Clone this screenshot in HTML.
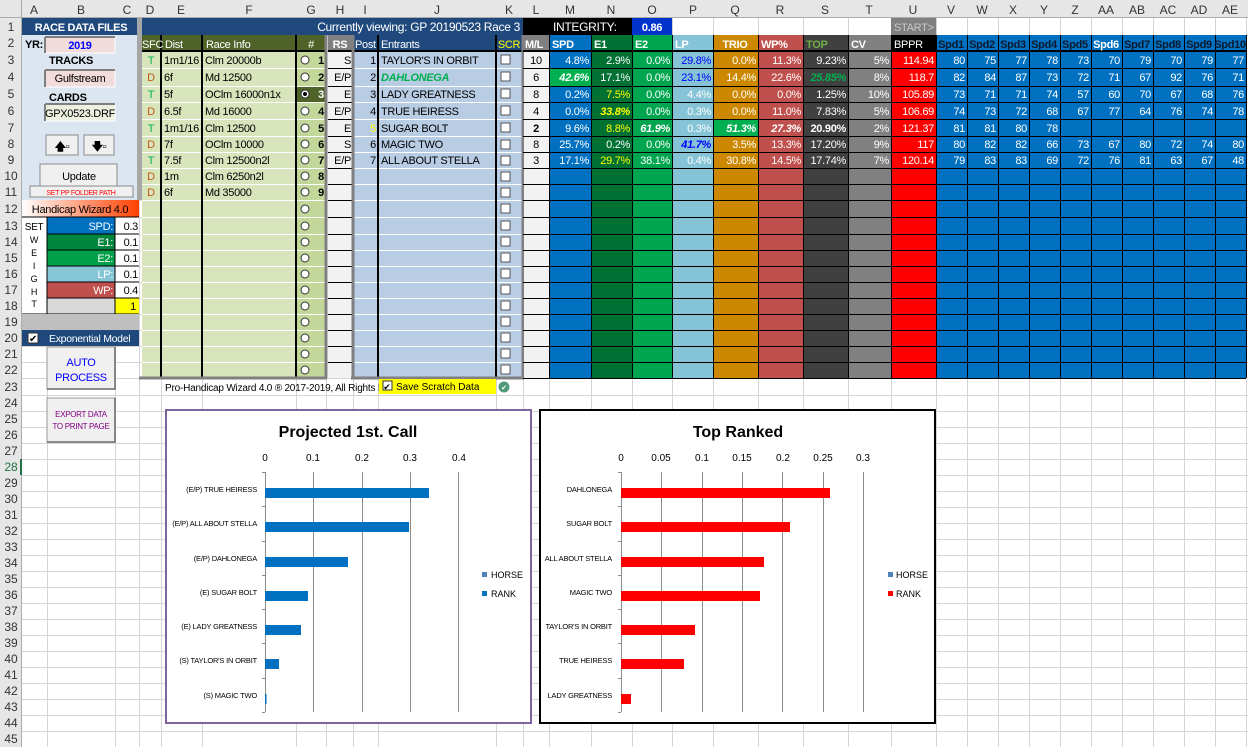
<!DOCTYPE html>
<html><head><meta charset="utf-8"><style>
html,body{margin:0;padding:0;background:#fff;}
svg{display:block;font-family:"Liberation Sans",Arial,sans-serif;}
.t text{font-size:11px;letter-spacing:-0.3px;}
</style></head><body>
<svg width="1248" height="747" viewBox="0 0 1248 747" xmlns="http://www.w3.org/2000/svg">
<rect width="1248" height="747" fill="#fff"/>
<g stroke="#d4d4d4" stroke-width="1">
<path d="M47.5 18V747M115.5 18V747M139.5 18V747M161.5 18V747M202.5 18V747M296.5 18V747M326.5 18V747M353.5 18V747M378.5 18V747M496.5 18V747M523.5 18V747M549.5 18V747M591.5 18V747M632.5 18V747M672.5 18V747M713.5 18V747M758.5 18V747M803.5 18V747M848.5 18V747M891.5 18V747M936.5 18V747M967.5 18V747M998.5 18V747M1029.5 18V747M1060.5 18V747M1091.5 18V747M1122.5 18V747M1153.5 18V747M1184.5 18V747M1215.5 18V747M1246.5 18V747"/>
<path d="M22 35.5H1248M22 51.5H1248M22 68.5H1248M22 86.5H1248M22 102.5H1248M22 119.5H1248M22 136.5H1248M22 152.5H1248M22 168.5H1248M22 184.5H1248M22 200.5H1248M22 217.5H1248M22 234.5H1248M22 250.5H1248M22 266.5H1248M22 282.5H1248M22 298.5H1248M22 314.5H1248M22 330.5H1248M22 346.5H1248M22 362.5H1248M22 378.5H1248M22 395.5H1248M22 411.5H1248M22 427.5H1248M22 443.5H1248M22 459.5H1248M22 475.5H1248M22 491.5H1248M22 507.5H1248M22 523.5H1248M22 539.5H1248M22 555.5H1248M22 571.5H1248M22 587.5H1248M22 603.5H1248M22 619.5H1248M22 635.5H1248M22 651.5H1248M22 667.5H1248M22 683.5H1248M22 699.5H1248M22 715.5H1248M22 731.5H1248"/>
</g>
<rect x="0" y="0" width="1248" height="18" fill="#e6e6e6"/>
<rect x="0" y="0" width="22" height="747" fill="#e6e6e6"/>
<path d="M0 17.5H1248M21.5 0V747" stroke="#ababab"/>
<g font-size="12" fill="#333" text-anchor="middle">
<text x="34" y="14">A</text><text x="81" y="14">B</text><text x="127" y="14">C</text><text x="150" y="14">D</text><text x="181" y="14">E</text><text x="249" y="14">F</text><text x="311" y="14">G</text><text x="340" y="14">H</text><text x="365" y="14">I</text><text x="437" y="14">J</text><text x="509" y="14">K</text><text x="536" y="14">L</text><text x="570" y="14">M</text><text x="611" y="14">N</text><text x="652" y="14">O</text><text x="693" y="14">P</text><text x="735" y="14">Q</text><text x="780" y="14">R</text><text x="825" y="14">S</text><text x="869" y="14">T</text><text x="913" y="14">U</text><text x="951" y="14">V</text><text x="982" y="14">W</text><text x="1013" y="14">X</text><text x="1044" y="14">Y</text><text x="1075" y="14">Z</text><text x="1106" y="14">AA</text><text x="1137" y="14">AB</text><text x="1168" y="14">AC</text><text x="1199" y="14">AD</text><text x="1230" y="14">AE</text>
</g>
<g font-size="12" fill="#333" text-anchor="middle">
<text x="11" y="31">1</text><text x="11" y="47">2</text><text x="11" y="64">3</text><text x="11" y="81">4</text><text x="11" y="98">5</text><text x="11" y="115">6</text><text x="11" y="132">7</text><text x="11" y="148">8</text><text x="11" y="164">9</text><text x="11" y="180">10</text><text x="11" y="196">11</text><text x="11" y="213">12</text><text x="11" y="230">13</text><text x="11" y="246">14</text><text x="11" y="262">15</text><text x="11" y="278">16</text><text x="11" y="294">17</text><text x="11" y="310">18</text><text x="11" y="326">19</text><text x="11" y="342">20</text><text x="11" y="358">21</text><text x="11" y="374">22</text><text x="11" y="391">23</text><text x="11" y="407">24</text><text x="11" y="423">25</text><text x="11" y="439">26</text><text x="11" y="455">27</text><text x="11" y="471" fill="#217346">28</text><text x="11" y="487">29</text><text x="11" y="503">30</text><text x="11" y="519">31</text><text x="11" y="535">32</text><text x="11" y="551">33</text><text x="11" y="567">34</text><text x="11" y="583">35</text><text x="11" y="599">36</text><text x="11" y="615">37</text><text x="11" y="631">38</text><text x="11" y="647">39</text><text x="11" y="663">40</text><text x="11" y="679">41</text><text x="11" y="695">42</text><text x="11" y="711">43</text><text x="11" y="727">44</text><text x="11" y="743">45</text>
</g>
<rect x="20" y="459" width="2" height="16" fill="#217346"/>

<g class="t">
<!-- LEFT PANEL -->
<rect x="22" y="18" width="117" height="182" fill="#dce6f1"/>
<rect x="22" y="18" width="116" height="17" fill="#1f497d"/>
<text x="81" y="31" font-weight="bold" fill="#fff" text-anchor="middle">RACE DATA FILES</text>
<text x="25" y="48" font-weight="bold" fill="#000">YR:</text>
<rect x="45" y="37" width="70" height="16" fill="#f2dcdb" stroke="#fff"/><path d="M45 37V53M45 37H115" stroke="#7f7f7f" stroke-width="2"/>
<text x="80" y="49" fill="#0000ff" text-anchor="middle" font-weight="bold">2019</text>
<text x="49" y="64" font-weight="bold">TRACKS</text>
<rect x="45" y="70" width="70" height="17" fill="#f2dcdb" stroke="#fff"/><path d="M45 70V87M45 70H115" stroke="#7f7f7f" stroke-width="2"/>
<text x="80" y="82" text-anchor="middle">Gulfstream</text>
<text x="49" y="101" font-weight="bold">CARDS</text>
<rect x="45" y="104" width="70" height="17" fill="#ebf1de" stroke="#fff"/><path d="M45 104V121M45 104H115" stroke="#7f7f7f" stroke-width="2"/>
<text x="80" y="117" text-anchor="middle">GPX0523.DRF</text>
<rect x="46" y="135" width="32" height="20" fill="#f0f0f0" stroke="#8a8a8a"/><text x="62" y="150" font-weight="bold" text-anchor="middle">🡅▫</text>
<rect x="84" y="135" width="30" height="20" fill="#f0f0f0" stroke="#8a8a8a"/><text x="99" y="150" font-weight="bold" text-anchor="middle">🡇▫</text>
<rect x="40" y="164" width="77" height="23" fill="#f0f0f0" stroke="#8a8a8a"/><text x="79" y="180" text-anchor="middle">Update</text>
<rect x="30" y="186" width="103" height="11" fill="#f0f0f0" stroke="#8a8a8a"/><text x="81" y="195" style="font-size:7px" fill="#ff0000" text-anchor="middle">SET PP FOLDER PATH</text>
<rect x="137" y="18" width="5" height="182" fill="#a6a6a6"/>

<defs><linearGradient id="hw" x1="0" x2="1"><stop offset="0" stop-color="#fff"/><stop offset="1" stop-color="#ff4000"/></linearGradient></defs>
<rect x="22" y="200" width="117" height="17" fill="url(#hw)"/>
<text x="80" y="213" text-anchor="middle">Handicap Wizard 4.0</text>
<rect x="22" y="217" width="25" height="97" fill="#fff"/>
<text x="34" y="230" style="font-size:10px" text-anchor="middle">SET</text>
<g text-anchor="middle"><text x="34" y="243" style="font-size:9px">W</text><text x="34" y="256" style="font-size:9px">E</text><text x="34" y="269" style="font-size:9px">I</text><text x="34" y="282" style="font-size:9px">G</text><text x="34" y="295" style="font-size:9px">H</text><text x="34" y="307" style="font-size:9px">T</text></g>
<rect x="47" y="217" width="68" height="17" fill="#0070c0"/><rect x="47" y="234" width="68" height="16" fill="#00853f"/><rect x="47" y="250" width="68" height="16" fill="#00a04b"/><rect x="47" y="266" width="68" height="16" fill="#86c5d6"/><rect x="47" y="282" width="68" height="16" fill="#c0504d"/><rect x="47" y="298" width="68" height="16" fill="#d9d9d9"/>
<rect x="115" y="217" width="24" height="97" fill="#fff"/><rect x="115" y="298" width="24" height="16" fill="#ffff00"/>
<g fill="#fff" text-anchor="end"><text x="113" y="230">SPD:</text><text x="113" y="246">E1:</text><text x="113" y="262">E2:</text><text x="113" y="278">LP:</text><text x="113" y="294">WP:</text></g>
<g text-anchor="end"><text x="138" y="230">0.3</text><text x="138" y="246">0.1</text><text x="138" y="262">0.1</text><text x="138" y="278">0.1</text><text x="138" y="294">0.4</text><text x="136" y="310">1</text></g>
<path d="M47 217V314M115 217V314M22 217H139M47 234H139M47 250H139M47 266H139M47 282H139M47 298H139M22 314H139" stroke="#000" stroke-width="1"/>
<rect x="22" y="314" width="117" height="16" fill="#bfbfbf"/>
<rect x="22" y="330" width="117" height="16" fill="#1f497d"/>
<rect x="28" y="333" width="10" height="10" fill="#fff" stroke="#333"/><text x="33" y="342" style="font-size:10px" text-anchor="middle">✔</text>
<text x="49" y="342" style="font-size:10.5px" fill="#fff">Exponential Model</text>
<rect x="47" y="347" width="68" height="42" fill="#f0f0f0" stroke="#999"/><path d="M115 347V389H47" stroke="#666" stroke-width="1.5" fill="none"/>
<text x="81" y="366" fill="#0000ff" text-anchor="middle">AUTO</text><text x="81" y="381" fill="#0000ff" text-anchor="middle">PROCESS</text>
<rect x="47" y="398" width="68" height="44" fill="#f0f0f0" stroke="#999"/><path d="M115 398V442H47" stroke="#666" stroke-width="1.5" fill="none"/>
<text x="81" y="417" style="font-size:8px" fill="#800080" text-anchor="middle">EXPORT DATA</text><text x="81" y="429" style="font-size:8px" fill="#800080" text-anchor="middle">TO PRINT PAGE</text>

<rect x="142" y="18" width="381" height="17" fill="#1f497d"/>
<text x="520" y="31" style="font-size:12px" fill="#fff" text-anchor="end">Currently viewing: GP 20190523 Race 3</text>
<rect x="523" y="18" width="109" height="17" fill="#000"/>
<text x="553" y="31" style="font-size:12px" fill="#fff">INTEGRITY:</text>
<rect x="632" y="18" width="40" height="17" fill="#0033cc"/><text x="652" y="31" font-weight="bold" fill="#fff" text-anchor="middle">0.86</text>
<rect x="891" y="18" width="45" height="17" fill="#808080"/><text x="894" y="31" fill="#c8c8c8">START&gt;</text>

<rect x="142" y="35" width="154" height="343" fill="#d8e4bc"/>
<rect x="296" y="35" width="30" height="343" fill="#c4d79b"/>
<rect x="142" y="35" width="184" height="16" fill="#4f6228"/>
<rect x="296" y="86" width="30" height="16" fill="#4f6228"/>
<g stroke="#fff"><path d="M142 68.5H326M142 86.5H326M142 102.5H326M142 119.5H326M142 136.5H326M142 152.5H326M142 168.5H326M142 184.5H326M142 200.5H326M142 217.5H326M142 234.5H326M142 250.5H326M142 266.5H326M142 282.5H326M142 298.5H326M142 314.5H326M142 330.5H326M142 346.5H326M142 362.5H326"/></g>
<path d="M142 51H326" stroke="#000" stroke-width="2"/>
<path d="M161 35V378M202 35V378M296 35V378" stroke="#000" stroke-width="2"/>
<path d="M139 378H327M326 35V378" stroke="#808080" stroke-width="3"/>
<g fill="#fff"><text x="142" y="48">SFC</text><text x="165" y="48">Dist</text><text x="206" y="48">Race Info</text><text x="311" y="48" text-anchor="middle">#</text></g>
<g text-anchor="middle"><text x="151" y="64" fill="#00b050">T</text><text x="151" y="81" fill="#c55a11">D</text><text x="151" y="98" fill="#00b050">T</text><text x="151" y="115" fill="#c55a11">D</text><text x="151" y="132" fill="#00b050">T</text><text x="151" y="148" fill="#c55a11">D</text><text x="151" y="164" fill="#00b050">T</text><text x="151" y="180" fill="#c55a11">D</text><text x="151" y="196" fill="#c55a11">D</text></g>
<g><text x="164" y="64">1m1/16</text><text x="164" y="81">6f</text><text x="164" y="98">5f</text><text x="164" y="115">6.5f</text><text x="164" y="132">1m1/16</text><text x="164" y="148">7f</text><text x="164" y="164">7.5f</text><text x="164" y="180">1m</text><text x="164" y="196">6f</text>
<text x="205" y="64">Clm 20000b</text><text x="205" y="81">Md 12500</text><text x="205" y="98">OClm 16000n1x</text><text x="205" y="115">Md 16000</text><text x="205" y="132">Clm 12500</text><text x="205" y="148">OClm 10000</text><text x="205" y="164">Clm 12500n2l</text><text x="205" y="180">Clm 6250n2l</text><text x="205" y="196">Md 35000</text></g>
<g fill="#fff" stroke="#333" stroke-width="1"><circle cx="305" cy="60" r="4"/><circle cx="305" cy="77" r="4"/><circle cx="305" cy="94" r="4"/><circle cx="305" cy="111" r="4"/><circle cx="305" cy="128" r="4"/><circle cx="305" cy="144" r="4"/><circle cx="305" cy="160" r="4"/><circle cx="305" cy="176" r="4"/><circle cx="305" cy="192" r="4"/><circle cx="305" cy="209" r="4"/><circle cx="305" cy="226" r="4"/><circle cx="305" cy="242" r="4"/><circle cx="305" cy="258" r="4"/><circle cx="305" cy="274" r="4"/><circle cx="305" cy="290" r="4"/><circle cx="305" cy="306" r="4"/><circle cx="305" cy="322" r="4"/><circle cx="305" cy="338" r="4"/><circle cx="305" cy="354" r="4"/><circle cx="305" cy="370" r="4"/></g>
<circle cx="305" cy="94" r="2" fill="#000"/>
<g font-weight="bold" text-anchor="end"><text x="324" y="64">1</text><text x="324" y="81">2</text><text x="324" y="98" fill="#fff">3</text><text x="324" y="115">4</text><text x="324" y="132">5</text><text x="324" y="148">6</text><text x="324" y="164">7</text><text x="324" y="180">8</text><text x="324" y="196">9</text></g>

<rect x="328" y="35" width="25" height="343" fill="#f2f2f2"/>
<rect x="328" y="35" width="25" height="16" fill="#808080"/>
<rect x="353" y="35" width="170" height="343" fill="#b8cce4"/>
<rect x="353" y="35" width="170" height="16" fill="#1f497d"/>
<path d="M328 68.5H353M328 86.5H353M328 102.5H353M328 119.5H353M328 136.5H353M328 152.5H353M328 168.5H353M328 184.5H353M328 200.5H353M328 217.5H353M328 234.5H353M328 250.5H353M328 266.5H353M328 282.5H353M328 298.5H353M328 314.5H353M328 330.5H353M328 346.5H353M328 362.5H353" stroke="#000"/>
<path d="M353 68.5H523M353 86.5H523M353 102.5H523M353 119.5H523M353 136.5H523M353 152.5H523M353 168.5H523M353 184.5H523M353 200.5H523M353 217.5H523M353 234.5H523M353 250.5H523M353 266.5H523M353 282.5H523M353 298.5H523M353 314.5H523M353 330.5H523M353 346.5H523M353 362.5H523" stroke="#fff"/>
<path d="M328 51H523M378 35V378M496 35V378" stroke="#000" stroke-width="2"/>
<path d="M353 35V378M523 35V378M351 378H524" stroke="#808080" stroke-width="3"/>
<g fill="#fff"><text x="340" y="48" text-anchor="middle" font-weight="bold">RS</text><text x="355" y="48">Post</text><text x="381" y="48">Entrants</text><text x="509" y="48" text-anchor="middle" fill="#ffff00">SCR</text></g>
<g text-anchor="end"><text x="351" y="64">S</text><text x="351" y="81">E/P</text><text x="351" y="98">E</text><text x="351" y="115">E/P</text><text x="351" y="132">E</text><text x="351" y="148">S</text><text x="351" y="164">E/P</text>
<text x="376" y="64">1</text><text x="376" y="81">2</text><text x="376" y="98">3</text><text x="376" y="115">4</text><text x="376" y="132" fill="#ffff00">5</text><text x="376" y="148">6</text><text x="376" y="164">7</text></g>
<g><text x="381" y="64">TAYLOR'S IN ORBIT</text><text x="381" y="81" fill="#00b050" font-weight="bold" font-style="italic">DAHLONEGA</text><text x="381" y="98">LADY GREATNESS</text><text x="381" y="115">TRUE HEIRESS</text><text x="381" y="132">SUGAR BOLT</text><text x="381" y="148">MAGIC TWO</text><text x="381" y="164">ALL ABOUT STELLA</text></g>
<g fill="#fff" stroke="#555"><rect x="501" y="55" width="9" height="9"/><rect x="501" y="72" width="9" height="9"/><rect x="501" y="89" width="9" height="9"/><rect x="501" y="106" width="9" height="9"/><rect x="501" y="123" width="9" height="9"/><rect x="501" y="140" width="9" height="9"/><rect x="501" y="156" width="9" height="9"/><rect x="501" y="172" width="9" height="9"/><rect x="501" y="188" width="9" height="9"/><rect x="501" y="204" width="9" height="9"/><rect x="501" y="221" width="9" height="9"/><rect x="501" y="237" width="9" height="9"/><rect x="501" y="253" width="9" height="9"/><rect x="501" y="269" width="9" height="9"/><rect x="501" y="285" width="9" height="9"/><rect x="501" y="301" width="9" height="9"/><rect x="501" y="317" width="9" height="9"/><rect x="501" y="333" width="9" height="9"/><rect x="501" y="349" width="9" height="9"/><rect x="501" y="365" width="9" height="9"/></g>

<rect x="524" y="35" width="25" height="343" fill="#f2f2f2"/>
<rect x="524" y="35" width="25" height="16" fill="#808080"/>
<rect x="549" y="35" width="42" height="343" fill="#0070c0"/>
<rect x="591" y="35" width="41" height="343" fill="#007033"/>
<rect x="632" y="35" width="40" height="343" fill="#00a64f"/>
<rect x="672" y="35" width="41" height="343" fill="#85c4d6"/>
<rect x="713" y="35" width="45" height="343" fill="#cc8800"/>
<rect x="758" y="35" width="45" height="343" fill="#c0504d"/>
<rect x="803" y="35" width="45" height="343" fill="#404040"/>
<rect x="848" y="35" width="43" height="343" fill="#808080"/>
<rect x="891" y="35" width="45" height="343" fill="#ff0000"/>
<rect x="891" y="35" width="45" height="16" fill="#000"/>
<rect x="936" y="35" width="310" height="343" fill="#0070c0"/>
<rect x="549" y="68" width="42" height="18" fill="#00b050"/>
<rect x="713" y="119" width="45" height="17" fill="#00b050"/>
<path d="M523 51H1246" stroke="#000" stroke-width="2"/>
<path d="M523 68.5H1246M523 86.5H1246M523 102.5H1246M523 119.5H1246M523 136.5H1246M523 152.5H1246M523 168.5H1246M523 184.5H1246M523 200.5H1246M523 217.5H1246M523 234.5H1246M523 250.5H1246M523 266.5H1246M523 282.5H1246M523 298.5H1246M523 314.5H1246M523 330.5H1246M523 346.5H1246M523 362.5H1246M523 378.5H1246" stroke="#000"/>
<path d="M549.5 35V378M591.5 35V378M632.5 35V378M672.5 35V378M713.5 35V378M758.5 35V378M803.5 35V378M848.5 35V378M891.5 35V378M936.5 35V378M967.5 35V378M998.5 35V378M1029.5 35V378M1060.5 35V378M1091.5 35V378M1122.5 35V378M1153.5 35V378M1184.5 35V378M1215.5 35V378M1246.5 35V378" stroke="#000"/>
<g font-weight="bold" fill="#fff"><text x="525" y="48">M/L</text><text x="552" y="48">SPD</text><text x="594" y="48">E1</text><text x="635" y="48">E2</text><text x="675" y="48">LP</text><text x="735" y="48" text-anchor="middle">TRIO</text><text x="761" y="48">WP%</text><text x="806" y="48" fill="#70ad47">TOP</text><text x="851" y="48">CV</text><text x="894" y="48" font-weight="normal">BPPR</text></g>
<g font-weight="bold" fill="#0b1a2e" text-anchor="middle"><text x="951" y="48">Spd1</text><text x="982" y="48">Spd2</text><text x="1013" y="48">Spd3</text><text x="1044" y="48">Spd4</text><text x="1075" y="48">Spd5</text><text x="1106" y="48" fill="#fff">Spd6</text><text x="1137" y="48">Spd7</text><text x="1168" y="48">Spd8</text><text x="1199" y="48">Spd9</text><text x="1230" y="48">Spd10</text></g>
<g text-anchor="middle"><text x="536" y="64">10</text><text x="536" y="81">6</text><text x="536" y="98">8</text><text x="536" y="115">4</text><text x="536" y="132" font-weight="bold">2</text><text x="536" y="148">8</text><text x="536" y="164">3</text></g>
<g fill="#fff" text-anchor="end">
<text x="589" y="64">4.8%</text><text x="589" y="81" font-weight="bold" font-style="italic">42.6%</text><text x="589" y="98">0.2%</text><text x="589" y="115">0.0%</text><text x="589" y="132">9.6%</text><text x="589" y="148">25.7%</text><text x="589" y="164">17.1%</text>
<text x="630" y="64">2.9%</text><text x="630" y="81">17.1%</text><text x="630" y="98" fill="#ffff00">7.5%</text><text x="630" y="115" fill="#ffff00" font-weight="bold" font-style="italic">33.8%</text><text x="630" y="132" fill="#ffff00">8.8%</text><text x="630" y="148">0.2%</text><text x="630" y="164" fill="#ffff00">29.7%</text>
<text x="670" y="64">0.0%</text><text x="670" y="81">0.0%</text><text x="670" y="98">0.0%</text><text x="670" y="115">0.0%</text><text x="670" y="132" font-weight="bold" font-style="italic">61.9%</text><text x="670" y="148">0.0%</text><text x="670" y="164">38.1%</text>
<text x="711" y="64" fill="#0000ff">29.8%</text><text x="711" y="81" fill="#0000ff">23.1%</text><text x="711" y="98">4.4%</text><text x="711" y="115">0.3%</text><text x="711" y="132">0.3%</text><text x="711" y="148" fill="#0000ff" font-weight="bold" font-style="italic">41.7%</text><text x="711" y="164">0.4%</text>
<text x="756" y="64">0.0%</text><text x="756" y="81">14.4%</text><text x="756" y="98">0.0%</text><text x="756" y="115">0.0%</text><text x="756" y="132" font-weight="bold" font-style="italic">51.3%</text><text x="756" y="148">3.5%</text><text x="756" y="164">30.8%</text>
<text x="801" y="64">11.3%</text><text x="801" y="81">22.6%</text><text x="801" y="98">0.0%</text><text x="801" y="115">11.0%</text><text x="801" y="132" font-weight="bold" font-style="italic">27.3%</text><text x="801" y="148">13.3%</text><text x="801" y="164">14.5%</text>
<text x="846" y="64">9.23%</text><text x="846" y="81" fill="#00b050" font-weight="bold" font-style="italic">25.85%</text><text x="846" y="98">1.25%</text><text x="846" y="115">7.83%</text><text x="846" y="132" font-weight="bold">20.90%</text><text x="846" y="148">17.20%</text><text x="846" y="164">17.74%</text>
<text x="889" y="64">5%</text><text x="889" y="81">8%</text><text x="889" y="98">10%</text><text x="889" y="115">5%</text><text x="889" y="132">2%</text><text x="889" y="148">9%</text><text x="889" y="164">7%</text>
<text x="934" y="64">114.94</text><text x="934" y="81">118.7</text><text x="934" y="98">105.89</text><text x="934" y="115">106.69</text><text x="934" y="132">121.37</text><text x="934" y="148">117</text><text x="934" y="164">120.14</text>
</g>
<g fill="#fff" text-anchor="end">
<text x="965" y="64">80</text><text x="996" y="64">75</text><text x="1027" y="64">77</text><text x="1058" y="64">78</text><text x="1089" y="64">73</text><text x="1120" y="64">70</text><text x="1151" y="64">79</text><text x="1182" y="64">70</text><text x="1213" y="64">79</text><text x="1244" y="64">77</text>
<text x="965" y="81">82</text><text x="996" y="81">84</text><text x="1027" y="81">87</text><text x="1058" y="81">73</text><text x="1089" y="81">72</text><text x="1120" y="81">71</text><text x="1151" y="81">67</text><text x="1182" y="81">92</text><text x="1213" y="81">76</text><text x="1244" y="81">71</text>
<text x="965" y="98">73</text><text x="996" y="98">71</text><text x="1027" y="98">71</text><text x="1058" y="98">74</text><text x="1089" y="98">57</text><text x="1120" y="98">60</text><text x="1151" y="98">70</text><text x="1182" y="98">67</text><text x="1213" y="98">68</text><text x="1244" y="98">76</text>
<text x="965" y="115">74</text><text x="996" y="115">73</text><text x="1027" y="115">72</text><text x="1058" y="115">68</text><text x="1089" y="115">67</text><text x="1120" y="115">77</text><text x="1151" y="115">64</text><text x="1182" y="115">76</text><text x="1213" y="115">74</text><text x="1244" y="115">78</text>
<text x="965" y="132">81</text><text x="996" y="132">81</text><text x="1027" y="132">80</text><text x="1058" y="132">78</text>
<text x="965" y="148">80</text><text x="996" y="148">82</text><text x="1027" y="148">82</text><text x="1058" y="148">66</text><text x="1089" y="148">73</text><text x="1120" y="148">67</text><text x="1151" y="148">80</text><text x="1182" y="148">72</text><text x="1213" y="148">74</text><text x="1244" y="148">80</text>
<text x="965" y="164">79</text><text x="996" y="164">83</text><text x="1027" y="164">83</text><text x="1058" y="164">69</text><text x="1089" y="164">72</text><text x="1120" y="164">76</text><text x="1151" y="164">81</text><text x="1182" y="164">63</text><text x="1213" y="164">67</text><text x="1244" y="164">48</text>
</g>
</g>

<text x="165" y="391" font-size="10" letter-spacing="-0.2">Pro-Handicap Wizard 4.0 ® 2017-2019, All Rights Res</text>
<rect x="379" y="379" width="117" height="15" fill="#ffff00"/>
<rect x="383" y="381" width="9" height="9" fill="#fff" stroke="#333"/><text x="387" y="390" font-size="9" text-anchor="middle">✔</text>
<text x="396" y="390" font-size="10">Save Scratch Data</text>
<circle cx="504" cy="387" r="5.5" fill="#4e9a7a"/><text x="504" y="390" font-size="7" fill="#fff" text-anchor="middle">✔</text>

<rect x="166" y="410" width="365" height="313" fill="#fff" stroke="#8064a2" stroke-width="2"/>
<text x="348" y="437" font-size="16" font-weight="bold" text-anchor="middle">Projected 1st. Call</text>
<g font-size="10" text-anchor="middle"><text x="265" y="461">0</text><text x="313" y="461">0.1</text><text x="362" y="461">0.2</text><text x="410" y="461">0.3</text><text x="459" y="461">0.4</text></g>
<g stroke="#8c8c8c"><path d="M265.5 472V712M313.5 472V712M362.5 472V712M410.5 472V712M458.5 472V712M262 472.5H265M262 506.5H265M262 541.5H265M262 575.5H265M262 609.5H265M262 643.5H265M262 678.5H265M262 712.5H265"/></g>
<g fill="#0070c0"><rect x="265" y="488" width="164" height="10"/><rect x="265" y="522" width="144" height="10"/><rect x="265" y="557" width="83" height="10"/><rect x="265" y="591" width="43" height="10"/><rect x="265" y="625" width="36" height="10"/><rect x="265" y="659" width="14" height="10"/><rect x="265" y="694" width="1.5" height="10"/></g>
<g font-size="7.5" text-anchor="end" letter-spacing="-0.2"><text x="257" y="492">(E/P) TRUE HEIRESS</text><text x="257" y="526">(E/P) ALL ABOUT STELLA</text><text x="257" y="561">(E/P) DAHLONEGA</text><text x="257" y="595">(E) SUGAR BOLT</text><text x="257" y="629">(E) LADY GREATNESS</text><text x="257" y="663">(S) TAYLOR'S IN ORBIT</text><text x="257" y="698">(S) MAGIC TWO</text></g>
<rect x="482" y="572" width="5" height="5" fill="#4f81bd"/><text x="491" y="578" font-size="9">HORSE</text>
<rect x="482" y="591" width="5" height="5" fill="#0070c0"/><text x="491" y="597" font-size="9">RANK</text>

<rect x="540" y="410" width="395" height="313" fill="#fff" stroke="#000" stroke-width="2"/>
<text x="738" y="437" font-size="16" font-weight="bold" text-anchor="middle">Top Ranked</text>
<g font-size="10" text-anchor="middle"><text x="621" y="461">0</text><text x="661" y="461">0.05</text><text x="702" y="461">0.1</text><text x="742" y="461">0.15</text><text x="783" y="461">0.2</text><text x="823" y="461">0.25</text><text x="863" y="461">0.3</text></g>
<g stroke="#8c8c8c"><path d="M621.5 472V712M661.5 472V712M702.5 472V712M742.5 472V712M782.5 472V712M823.5 472V712M863.5 472V712M618 472.5H621M618 506.5H621M618 541.5H621M618 575.5H621M618 609.5H621M618 643.5H621M618 678.5H621M618 712.5H621"/></g>
<g fill="#ff0000"><rect x="621" y="488" width="209" height="10"/><rect x="621" y="522" width="169" height="10"/><rect x="621" y="557" width="143" height="10"/><rect x="621" y="591" width="139" height="10"/><rect x="621" y="625" width="74" height="10"/><rect x="621" y="659" width="63" height="10"/><rect x="621" y="694" width="10" height="10"/></g>
<g font-size="7.5" text-anchor="end" letter-spacing="-0.2"><text x="612" y="492">DAHLONEGA</text><text x="612" y="526">SUGAR BOLT</text><text x="612" y="561">ALL ABOUT STELLA</text><text x="612" y="595">MAGIC TWO</text><text x="612" y="629">TAYLOR'S IN ORBIT</text><text x="612" y="663">TRUE HEIRESS</text><text x="612" y="698">LADY GREATNESS</text></g>
<rect x="888" y="572" width="5" height="5" fill="#4f81bd"/><text x="896" y="578" font-size="9">HORSE</text>
<rect x="888" y="591" width="5" height="5" fill="#ff0000"/><text x="896" y="597" font-size="9">RANK</text>
</svg>
</body></html>
